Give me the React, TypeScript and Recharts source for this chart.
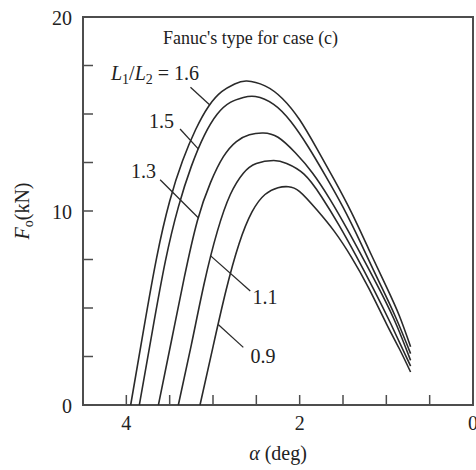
import React from 'react';
import { LineChart, Line, XAxis, YAxis, ReferenceArea, ReferenceLine, ReferenceDot } from 'recharts';

const FONT = '"Liberation Serif", "Times New Roman", Times, serif';
const INK = '#222';
const FRAME = '#4d4d4d';
const CURVE = '#2a2a2a';

// alpha (deg) / Fo (kN) pairs, one pair of arrays per L1/L2 ratio
const alpha16 = [3.95, 3.8, 3.65, 3.5, 3.35, 3.2, 3.05, 2.9, 2.75, 2.61, 2.4, 2.2, 2.0, 1.8, 1.6, 1.4, 1.2, 1.0, 0.85, 0.72];
const force16 = [0, 3.9, 7.6, 10.5, 12.6, 14.2, 15.4, 16.15, 16.55, 16.7, 16.45, 15.8, 14.7, 13.2, 11.6, 9.9, 8.0, 6.1, 4.6, 3.0];

const alpha15 = [3.85, 3.7, 3.55, 3.4, 3.25, 3.1, 2.95, 2.8, 2.65, 2.51, 2.3, 2.1, 1.9, 1.7, 1.5, 1.3, 1.1, 0.9, 0.72];
const force15 = [0, 3.8, 7.4, 10.2, 12.3, 13.9, 15.0, 15.6, 15.85, 15.9, 15.5, 14.6, 13.3, 11.8, 10.2, 8.4, 6.5, 4.6, 2.65];

const alpha13 = [3.63, 3.48, 3.33, 3.18, 3.03, 2.88, 2.73, 2.58, 2.42, 2.25, 2.05, 1.85, 1.65, 1.45, 1.25, 1.05, 0.88, 0.72];
const force13 = [0, 3.3, 6.6, 9.5, 11.45, 12.8, 13.58, 13.93, 14.02, 13.8, 13.0, 11.95, 10.6, 9.05, 7.4, 5.7, 4.1, 2.3];

const alpha11 = [3.4, 3.25, 3.1, 2.95, 2.8, 2.65, 2.5, 2.3, 2.15, 1.95, 1.75, 1.55, 1.35, 1.15, 0.95, 0.72];
const force11 = [0, 3.1, 6.3, 8.95, 10.85, 11.95, 12.45, 12.6, 12.45, 11.9, 10.75, 9.3, 7.7, 6.0, 4.2, 2.0];

const alpha09 = [3.15, 3.0, 2.85, 2.7, 2.55, 2.4, 2.25, 2.13, 2.0, 1.8, 1.6, 1.4, 1.2, 1.0, 0.85, 0.72];
const force09 = [0, 3.0, 5.9, 8.3, 9.95, 10.85, 11.2, 11.25, 11.0, 10.05, 8.95, 7.6, 6.0, 4.2, 2.9, 1.7];

const xTicks = [0, 0.5, 1, 1.5, 2, 2.5, 3, 3.5, 4];
const xTickLabels = [0, 2, 4];
const yTicks = [0, 2.5, 5, 7.5, 10, 12.5, 15, 17.5, 20];
const yTickLabels = [0, 10, 20];

// leader lines from each ratio label to its curve, in data units
const leaders = [
  [{ x: 3.26, y: 16.38 }, { x: 3.04, y: 15.48 }],
  [{ x: 3.38, y: 14.23 }, { x: 3.17, y: 13.2 }],
  [{ x: 3.61, y: 11.61 }, { x: 3.17, y: 9.65 }],
  [{ x: 3.03, y: 7.7 }, { x: 2.57, y: 5.88 }],
  [{ x: 2.94, y: 4.15 }, { x: 2.65, y: 2.97 }],
];

const ratioLabels = [
  { text: '1.5', x: 3.594, y: 14.26 },
  { text: '1.3', x: 3.802, y: 11.69 },
  { text: '1.1', x: 2.4, y: 5.21 },
  { text: '0.9', x: 2.423, y: 2.15 },
];

const toRows = (alpha: number[], force: number[]) => alpha.map((a, i) => ({ a, f: force[i] }));

const curves = [
  { key: '1.6', rows: toRows(alpha16, force16) },
  { key: '1.5', rows: toRows(alpha15, force15) },
  { key: '1.3', rows: toRows(alpha13, force13) },
  { key: '1.1', rows: toRows(alpha11, force11) },
  { key: '0.9', rows: toRows(alpha09, force09) },
];

const XTick = ({ x, y, payload }: any) => (
  <g>
    <line x1={x} x2={x} y1={y} y2={y - 10} stroke={FRAME} strokeWidth={1.5} />
    {xTickLabels.includes(payload.value) && (
      <text x={x} y={y + 25} textAnchor="middle" fontFamily={FONT} fontSize={20} fill={INK}>
        {payload.value}
      </text>
    )}
  </g>
);

const YTick = ({ x, y, payload }: any) => (
  <g>
    <line x1={x} x2={x + 10} y1={y} y2={y} stroke={FRAME} strokeWidth={1.5} />
    {yTickLabels.includes(payload.value) && (
      <text x={x - 11} y={y + 8} textAnchor="end" fontFamily={FONT} fontSize={20} fill={INK}>
        {payload.value}
      </text>
    )}
  </g>
);

const XTitle = ({ viewBox }: any) => (
  <text
    x={viewBox.x + viewBox.width / 2}
    y={viewBox.y + 55}
    textAnchor="middle"
    fontFamily={FONT}
    fontSize={20}
    fill={INK}
  >
    <tspan fontStyle="italic">α</tspan>
    <tspan> (deg)</tspan>
  </text>
);

const YTitle = ({ viewBox }: any) => (
  <text
    transform={`translate(29, ${viewBox.y + viewBox.height / 2}) rotate(-90)`}
    textAnchor="middle"
    fontFamily={FONT}
    fontSize={20}
    fill={INK}
  >
    <tspan fontStyle="italic">F</tspan>
    <tspan fontSize={14} dy={4}>o</tspan>
    <tspan dy={-4}>(kN)</tspan>
  </text>
);

const textShape = (content: React.ReactNode, anchor: string, size = 20) => (p: any) => (
  <text x={p.cx} y={p.cy} textAnchor={anchor} fontFamily={FONT} fontSize={size} fill={INK}>
    {content}
  </text>
);

const ratioHead = (
  <>
    <tspan fontStyle="italic">L</tspan>
    <tspan fontSize={14} dy={4}>1</tspan>
    <tspan dy={-4}>/</tspan>
    <tspan fontStyle="italic">L</tspan>
    <tspan fontSize={14} dy={4}>2</tspan>
    <tspan dy={-4}> = 1.6</tspan>
  </>
);

export default function App() {
  return (
    <div style={{ position: 'absolute', left: 0, top: 0, width: 476, height: 470, background: '#fff' }}>
      <LineChart width={476} height={470} margin={{ top: 17, right: 3, bottom: 0, left: 0 }}>
        <XAxis
          type="number"
          dataKey="a"
          domain={[0, 4.5]}
          reversed
          ticks={xTicks}
          interval={0}
          height={65}
          axisLine={false}
          tickLine={false}
          tickSize={0}
          tickMargin={0}
          tick={<XTick />}
          label={XTitle}
          allowDuplicatedCategory={false}
        />
        <YAxis
          type="number"
          domain={[0, 20]}
          ticks={yTicks}
          interval={0}
          width={83}
          axisLine={false}
          tickLine={false}
          tickSize={0}
          tickMargin={0}
          tick={<YTick />}
          label={YTitle}
        />
        <ReferenceArea x1={0} x2={4.5} y1={0} y2={20} fill="none" stroke={FRAME} strokeWidth={2} ifOverflow="visible" />
        {curves.map((c) => (
          <Line
            key={c.key}
            data={c.rows}
            dataKey="f"
            type="natural"
            stroke={CURVE}
            strokeWidth={1.6}
            dot={false}
            activeDot={false}
            isAnimationActive={false}
          />
        ))}
        {leaders.map((seg, i) => (
          <ReferenceLine key={i} segment={seg} stroke={CURVE} strokeWidth={1.3} ifOverflow="visible" />
        ))}
        <ReferenceDot x={2.567} y={18.59} r={0} shape={textShape("Fanuc's type for case (c)", 'middle', 18)} />
        <ReferenceDot x={4.177} y={16.75} r={0} shape={textShape(ratioHead, 'start')} />
        {ratioLabels.map((l) => (
          <ReferenceDot key={l.text} x={l.x} y={l.y} r={0} shape={textShape(l.text, 'middle')} />
        ))}
      </LineChart>
    </div>
  );
}
